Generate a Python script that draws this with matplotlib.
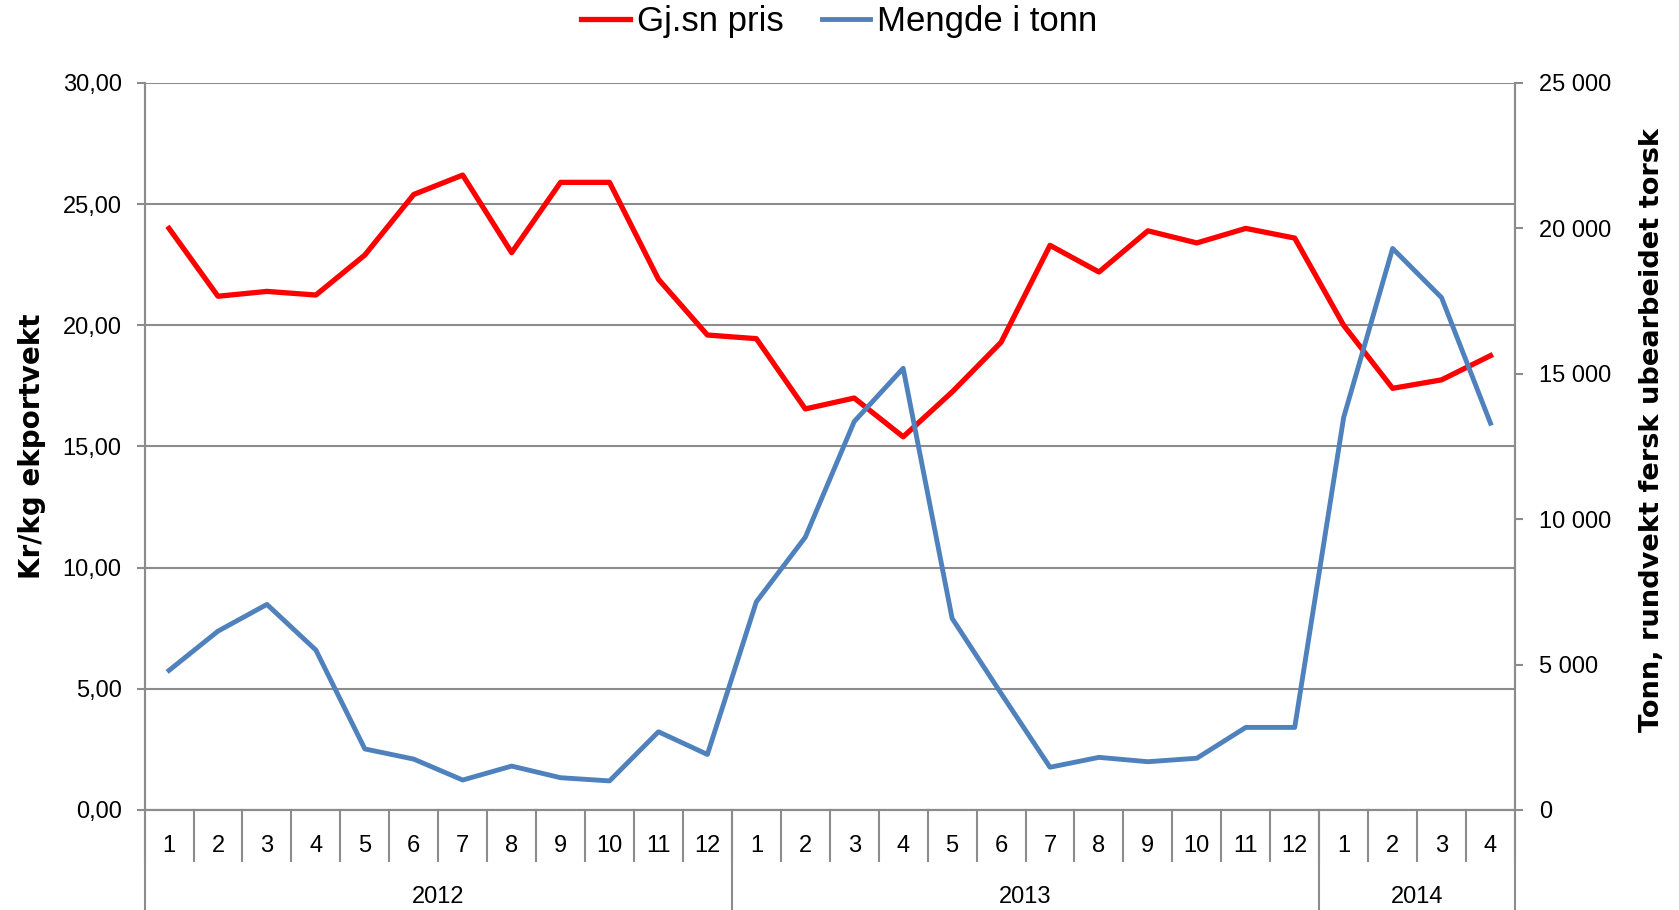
import matplotlib.pyplot as plt
from matplotlib.ticker import FuncFormatter, MultipleLocator

# Data
months = ['1', '2', '3', '4', '5', '6', '7', '8', '9', '10', '11', '12',
          '1', '2', '3', '4', '5', '6', '7', '8', '9', '10', '11', '12',
          '1', '2', '3', '4']
years = ['2012', '2013', '2014']
year_counts = [12, 12, 4]

price = [24.0, 21.2, 21.4, 21.25, 22.9, 25.4, 26.2, 23.0, 25.9, 25.9, 21.9, 19.6,
         19.45, 16.55, 17.0, 15.4, 17.25, 19.3, 23.3, 22.2, 23.9, 23.4, 24.0, 23.6,
         20.0, 17.4, 17.75, 18.75]
volume = [4800, 6150, 7070, 5500, 2100, 1750, 1030, 1510, 1110, 1000, 2690, 1910,
          7160, 9380, 13360, 15190, 6590, 4010, 1470, 1810, 1660, 1780, 2840, 2840,
          13500, 19310, 17620, 13300]

plt.rcParams['font.family'] = ['Liberation Sans', 'DejaVu Sans']

grid_c = '#8c8c8c'

fig = plt.figure(figsize=(16.79, 9.10), dpi=100)
ax = fig.add_axes([0.0861, 0.1099, 0.8162, 0.7989])
ax2 = ax.twinx()

x = list(range(len(months)))
red, = ax.plot(x, price, color='#ff0000', lw=3.8, label='Gj.sn pris')
blue, = ax2.plot(x, volume, color='#4f81bd', lw=3.5, label='Mengde i tonn')

ax.set_xlim(-0.5, len(months) - 0.5)
ax.set_ylim(0, 30)
ax2.set_ylim(0, 25000)
ax.yaxis.set_major_locator(MultipleLocator(5))
ax2.yaxis.set_major_locator(MultipleLocator(5000))
ax.yaxis.set_major_formatter(FuncFormatter(lambda v, p: f'{v:.2f}'.replace('.', ',')))
ax2.yaxis.set_major_formatter(FuncFormatter(lambda v, p: f'{int(v):,}'.replace(',', ' ')))

ax.grid(axis='y', color=grid_c, lw=1.5)
ax.set_axisbelow(True)
ax.set_xticks([])

for a in (ax, ax2):
    a.spines['top'].set_visible(False)
    for s in ('left', 'right', 'bottom'):
        a.spines[s].set_color(grid_c)
        a.spines[s].set_linewidth(1.5)
ax.tick_params(axis='y', length=5.5, width=1.5, color=grid_c, pad=11, labelsize=17)
ax2.tick_params(axis='y', length=5.5, width=1.5, color=grid_c, pad=12, labelsize=17)

ax.set_ylabel('Kr/kg ekportvekt', family='DejaVu Sans', fontweight='bold', fontsize=20, labelpad=12)
ax2.set_ylabel('Tonn, rundvekt fersk ubearbeidet torsk', family='DejaVu Sans',
               fontweight='bold', fontsize=19.6, labelpad=20)
ax2.yaxis.label.set_y(0.522)

# Multi-level category axis
trans = ax.get_xaxis_transform()
for i, m in enumerate(months):
    ax.text(i, -0.049, m, transform=trans, ha='center', va='center', fontsize=17)
for i in range(len(months) + 1):
    ax.plot([i - 0.5, i - 0.5], [0, -0.07], transform=trans, color=grid_c, lw=1.5, clip_on=False)
start = 0
for yr, n in zip(years, year_counts):
    ax.text(start + n / 2 - 0.5, -0.119, yr, transform=trans, ha='center', va='center', fontsize=17)
    ax.plot([start - 0.5, start - 0.5], [0, -0.14], transform=trans, color=grid_c, lw=1.5, clip_on=False)
    start += n
ax.plot([start - 0.5, start - 0.5], [0, -0.14], transform=trans, color=grid_c, lw=1.5, clip_on=False)

fig.legend(handles=[red, blue], loc='center', bbox_to_anchor=(0.5, 0.976), ncol=2,
           frameon=False, fontsize=25, handlelength=1.4, handletextpad=0.2, columnspacing=1.1)

fig.savefig('out.png', dpi=100)
